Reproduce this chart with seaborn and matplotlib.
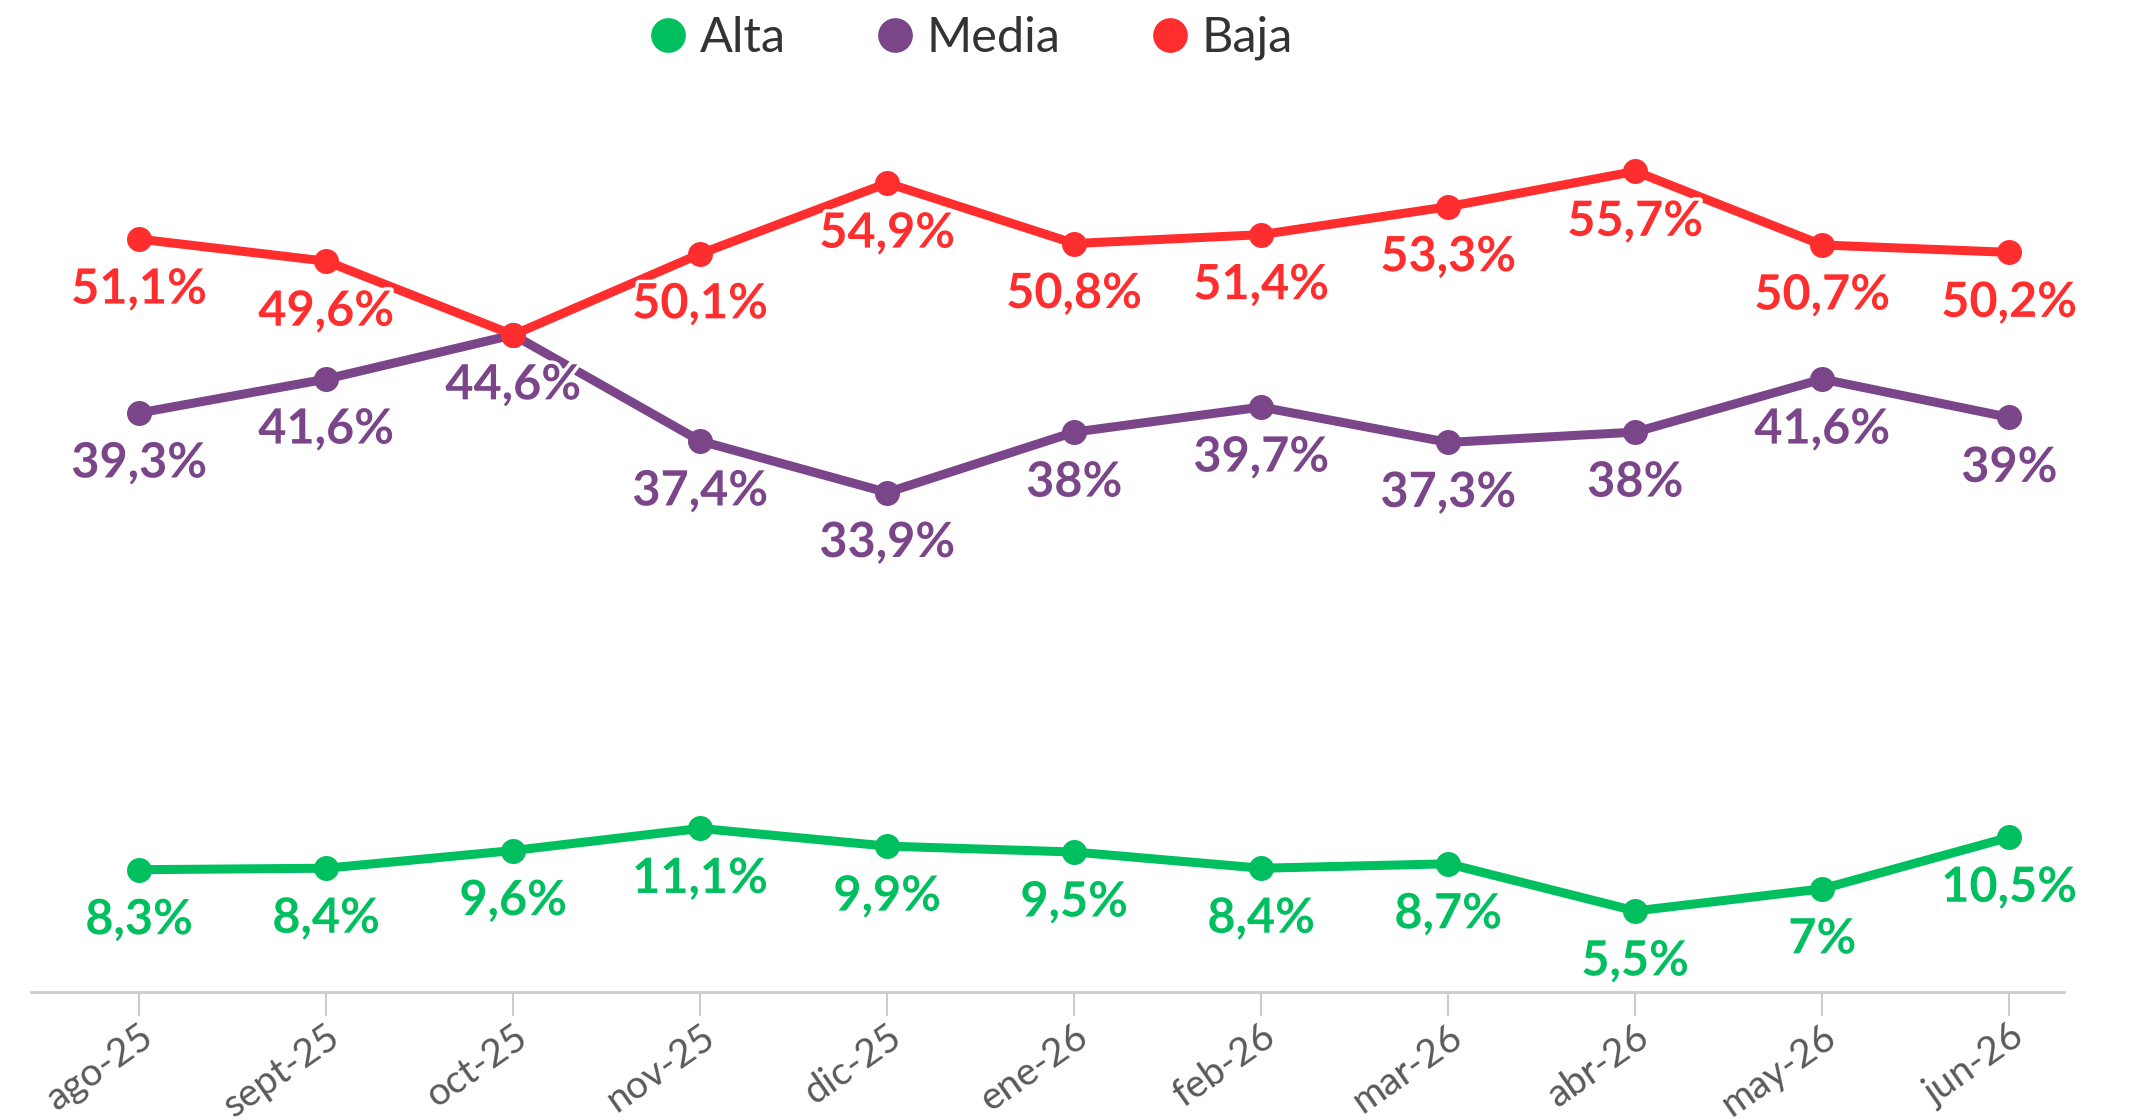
import pandas as pd
import matplotlib
matplotlib.use("Agg")
import matplotlib.pyplot as plt
import matplotlib.patheffects as pe
from matplotlib.lines import Line2D
import seaborn as sns

meses = ["ago-25", "sept-25", "oct-25", "nov-25", "dic-25", "ene-26",
         "feb-26", "mar-26", "abr-26", "may-26", "jun-26"]
alta = [8.3, 8.4, 9.6, 11.1, 9.9, 9.5, 8.4, 8.7, 5.5, 7, 10.5]
media = [39.3, 41.6, 44.6, 37.4, 33.9, 38, 39.7, 37.3, 38, 41.6, 39]
baja = [51.1, 49.6, 44.6, 50.1, 54.9, 50.8, 51.4, 53.3, 55.7, 50.7, 50.2]

series = ["Alta", "Media", "Baja"]
colores = {"Alta": "#00bf5f", "Media": "#7b4589", "Baja": "#ff2e2e"}

# labels hidden in the original where two points overlap
ocultas = {("Baja", 2)}

rows = []
for nombre, vals in zip(series, [alta, media, baja]):
    for i, v in enumerate(vals):
        rows.append({"mes": i, "valor": v, "serie": nombre})
df = pd.DataFrame(rows)

sns.set_theme(style="white")
plt.rcParams["font.family"] = ["Lato", "DejaVu Sans"]

fig = plt.figure(figsize=(21.29, 11.2), dpi=100)
ax = fig.add_axes([0.0146, 0.1143, 0.955, 0.7893])

sns.lineplot(data=df, x="mes", y="valor", hue="serie", hue_order=series,
             palette=colores, marker="o", markersize=18, markeredgewidth=0,
             linewidth=6.5, legend=False, ax=ax)


def fmt(v):
    s = f"{v:.1f}".rstrip("0").rstrip(".")
    return s.replace(".", ",") + "%"


for nombre, vals in zip(series, [alta, media, baja]):
    for i, v in enumerate(vals):
        if (nombre, i) in ocultas:
            continue
        ax.annotate(fmt(v), (i, v), xytext=(0, -36), textcoords="offset points",
                    ha="center", va="center", fontsize=35, fontweight="bold",
                    color=colores[nombre], zorder=5,
                    path_effects=[pe.withStroke(linewidth=5, foreground="white")])

ax.set_xlim(-0.578, 10.294)
ax.set_ylim(0, 60)
ax.set_xticks(range(len(meses)))
ax.set_xticklabels(meses, rotation=35, ha="right", rotation_mode="anchor",
                   fontsize=28, color="#5a5a5a")
ax.set_yticks([])
ax.set_xlabel("")
ax.set_ylabel("")
for s in ["top", "right", "left"]:
    ax.spines[s].set_visible(False)
ax.spines["bottom"].set_color("#cccccc")
ax.spines["bottom"].set_linewidth(2)
ax.tick_params(axis="x", bottom=True, length=17, width=1.5, color="#cccccc", pad=2)

handles = [Line2D([], [], linestyle="none", marker="o", markersize=25,
                  markerfacecolor=colores[n], markeredgewidth=0) for n in series]
fig.legend(handles, series, loc="center", bbox_to_anchor=(0.453, 0.966), ncol=3,
           frameon=False, fontsize=35, handlelength=1.3, handletextpad=0.0,
           columnspacing=1.6, labelcolor="#333333")

fig.savefig("out.png", dpi=100)
